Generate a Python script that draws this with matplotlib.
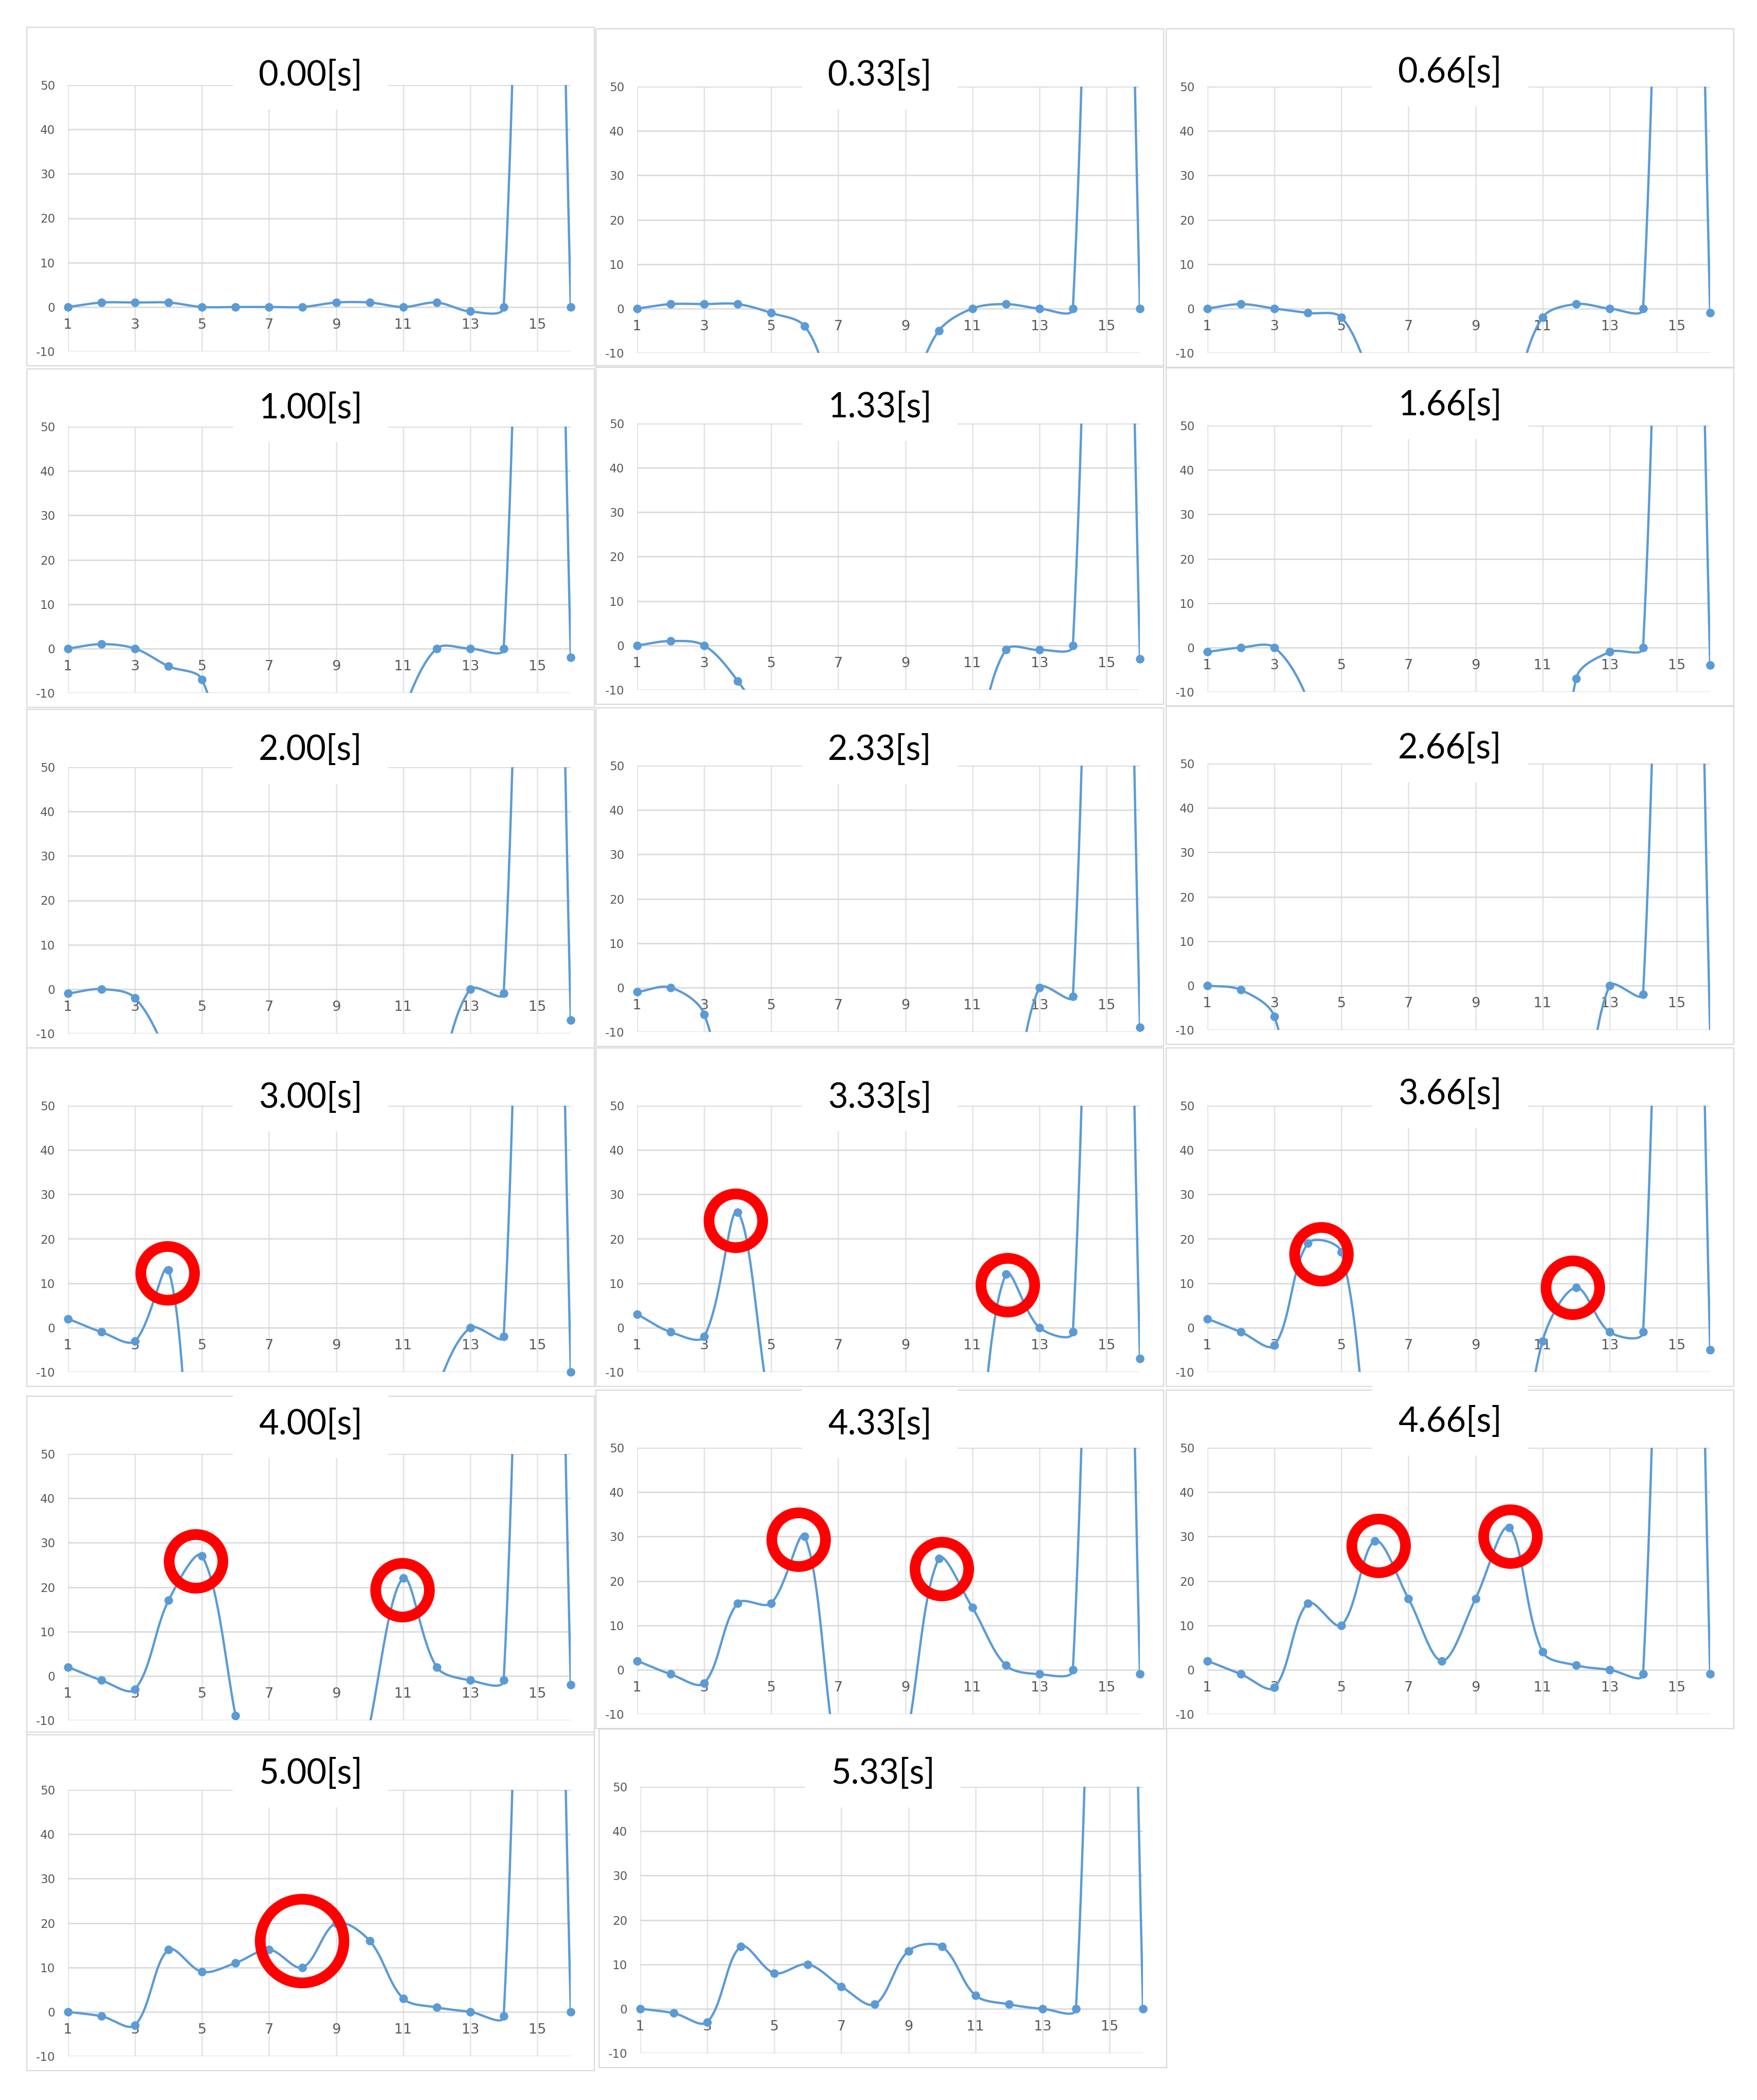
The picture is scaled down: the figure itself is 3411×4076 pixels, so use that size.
import numpy as np
import matplotlib
matplotlib.use("Agg")
import matplotlib.pyplot as plt
from matplotlib.patches import Rectangle
from matplotlib import font_manager

# x positions (categories 1..16)
x = np.arange(1, 17)

# value at x=15 is far above the axis in every frame
y_000 = [0, 1, 1, 1, 0, 0, 0, 0, 1, 1, 0, 1, -1, 0, 300, 0]
y_033 = [0, 1, 1, 1, -1, -4, -20, -25, -20, -5, 0, 1, 0, 0, 300, 0]
y_066 = [0, 1, 0, -1, -2, -17, -28, -33, -30, -21, -2, 1, 0, 0, 300, -1]
y_100 = [0, 1, 0, -4, -7, -37, -50, -55, -50, -35, -14, 0, 0, 0, 300, -2]
y_133 = [0, 1, 0, -8, -20, -35, -45, -50, -45, -38, -24, -1, -1, 0, 300, -3]
y_166 = [-1, 0, 0, -12, -40, -60, -70, -75, -75, -70, -70, -7, -1, 0, 300, -4]
y_200 = [-1, 0, -2, -16, -40, -55, -60, -60, -55, -50, -45, -22, 0, -1, 300, -7]
y_233 = [-1, 0, -6, -40, -55, -60, -60, -60, -60, -55, -50, -35, 0, -2, 300, -9]
y_266 = [0, -1, -7, -45, -55, -60, -60, -60, -60, -55, -50, -38, 0, -2, 300, -11]
y_300 = [2, -1, -3, 13, -55, -65, -65, -65, -65, -60, -40, -14, 0, -2, 300, -10]
y_333 = [3, -1, -2, 26, -20, -50, -60, -65, -60, -55, -35, 12, 0, -1, 300, -7]
y_366 = [2, -1, -4, 19, 17, -37, -55, -60, -60, -47, -3, 9, -1, -1, 300, -5]
y_400 = [2, -1, -3, 17, 27, -9, -50, -60, -50, -11, 22, 2, -1, -1, 300, -2]
y_433 = [2, -1, -3, 15, 15, 30, -22, -45, -17, 25, 14, 1, -1, 0, 300, -1]
y_466 = [2, -1, -4, 15, 10, 29, 16, 2, 16, 32, 4, 1, 0, -1, 300, -1]
y_500 = [0, -1, -3, 14, 9, 11, 14, 10, 20, 16, 3, 1, 0, -1, 300, 0]
y_533 = [0, -1, -3, 14, 8, 10, 5, 1, 13, 14, 3, 1, 0, 0, 300, 0]

series = [y_000, y_033, y_066, y_100, y_133, y_166, y_200, y_233, y_266,
          y_300, y_333, y_366, y_400, y_433, y_466, y_500, y_533]
times = ["0.00[s]", "0.33[s]", "0.66[s]", "1.00[s]", "1.33[s]", "1.66[s]",
         "2.00[s]", "2.33[s]", "2.66[s]", "3.00[s]", "3.33[s]", "3.66[s]",
         "4.00[s]", "4.33[s]", "4.66[s]", "5.00[s]", "5.33[s]"]

# red rings: (frame index, x, y)
ring_panel = [9, 10, 10, 11, 11, 12, 12, 13, 13, 14, 14, 15]
ring_x = [3.96, 3.93, 12.05, 4.4, 11.9, 4.81, 10.97, 5.81, 10.08, 6.11, 10.04, 7.97]
ring_y = [12.3, 24.1, 9.6, 16.6, 9.0, 25.9, 19.4, 29.4, 22.7, 28.0, 30.0, 16.0]

xtick_vals = [1, 3, 5, 7, 9, 11, 13, 15]
ytick_vals = [-10, 0, 10, 20, 30, 40, 50]

# layout in pixels
FIG_W, FIG_H = 3411, 4076
PANEL_W = 1102
PLOT_W, PLOT_H = 976, 517
panel_left = [52, 1157, 2264] * 5 + [52, 1163]
plot_top = [165, 168, 168, 828, 822, 826, 1489, 1486, 1482,
            2146, 2146, 2146, 2822, 2810, 2810, 3474, 3468]
title_base = [166, 166, 160, 812, 810, 806, 1475, 1475, 1472,
              2150, 2150, 2143, 2784, 2784, 2779, 3462, 3462]

BLUE = "#5b9bd5"
GRID = "#d9d9d9"
LABEL = "#595959"

names = {f.name for f in font_manager.fontManager.ttflist}
narrow = "Liberation Sans Narrow" if "Liberation Sans Narrow" in names else "DejaVu Sans"
title_font = "Lato" if "Lato" in names else "DejaVu Sans"


def fx(px):
    return px / FIG_W


def fy(py):
    return 1 - py / FIG_H


def smooth(ax, xs, ys, tension=1/3, n=40):
    # Excel-like smoothed line, built in display space
    pts = ax.transData.transform(np.column_stack([xs, ys]))
    m = len(pts)
    out = []
    t = np.linspace(0, 1, n)[:, None]
    for i in range(m - 1):
        p0 = pts[max(i - 1, 0)]
        p1 = pts[i]
        p2 = pts[i + 1]
        p3 = pts[min(i + 2, m - 1)]
        d01 = np.hypot(*(p1 - p0))
        d12 = np.hypot(*(p2 - p1))
        d23 = np.hypot(*(p3 - p2))
        f1 = d12 / (d01 + d12) if d01 + d12 > 0 else 0
        f2 = d12 / (d12 + d23) if d12 + d23 > 0 else 0
        c1 = p1 + (p2 - p0) * tension * f1
        c2 = p2 - (p3 - p1) * tension * f2
        seg = (1 - t) ** 3 * p1 + 3 * (1 - t) ** 2 * t * c1 + 3 * (1 - t) * t ** 2 * c2 + t ** 3 * p2
        out.append(seg if i == 0 else seg[1:])
    path = ax.transData.inverted().transform(np.vstack(out))
    return path[:, 0], path[:, 1]


fig = plt.figure(figsize=(FIG_W / 100, FIG_H / 100), dpi=100)
fig.patch.set_facecolor("white")

axes = []
for i, (lab, ys) in enumerate(zip(times, series)):
    ys = np.array(ys, dtype=float)
    left = panel_left[i]
    top = plot_top[i]
    ptop = top - 112
    pbot = top + PLOT_H + 28

    # chart frame
    fig.add_artist(Rectangle((fx(left), fy(pbot)), PANEL_W / FIG_W, (pbot - ptop) / FIG_H,
                             transform=fig.transFigure, fill=False, ec=GRID, lw=1.6, zorder=1))

    ax = fig.add_axes([fx(left + 80), fy(top + PLOT_H), PLOT_W / FIG_W, PLOT_H / FIG_H])
    ax.set_xlim(1, 16)
    ax.set_ylim(-10, 50)
    for s in ax.spines.values():
        s.set_visible(False)
    ax.spines["bottom"].set_position(("data", 0))

    ax.set_yticks(ytick_vals)
    ax.set_yticklabels([str(v) for v in ytick_vals], fontsize=16.5, color=LABEL)
    ax.set_xticks(xtick_vals)
    ax.set_xticklabels([str(v) for v in xtick_vals], fontsize=19.5, color=LABEL, family=narrow)
    ax.tick_params(axis="y", length=0, pad=18)
    ax.tick_params(axis="x", length=0, pad=16)
    ax.yaxis.grid(True, color=GRID, lw=1.9)
    ax.xaxis.grid(True, color="#e3e3e3", lw=1.9)
    ax.set_axisbelow(True)

    sx, sy = smooth(ax, x, ys)
    ax.plot(sx, sy, color=BLUE, lw=3.2, solid_capstyle="round", zorder=3)
    vis = (ys >= -10.5) & (ys <= 50)
    ax.plot(x[vis], ys[vis], "o", color=BLUE, ms=11, clip_on=False, zorder=4)
    axes.append(ax)

    # title with white background box
    cx = left + 551
    base = title_base[i]
    fig.add_artist(Rectangle((fx(cx - 151), fy(base + 46)), 302 / FIG_W, 136 / FIG_H,
                             transform=fig.transFigure, fc="white", ec="none", zorder=2))
    fig.text(fx(cx), fy(base), lab, ha="center", va="baseline", fontsize=48,
             family=title_font, color="black", zorder=3)

for k in range(len(ring_panel)):
    ax = axes[ring_panel[k]]
    big = ring_panel[k] == 15
    ax.plot(ring_x[k], ring_y[k], "o", ms=117 if big else 75, mfc="none", mec="#ff0000",
            mew=15, clip_on=False, zorder=5)

fig.savefig("out.png", dpi=100, facecolor="white")
